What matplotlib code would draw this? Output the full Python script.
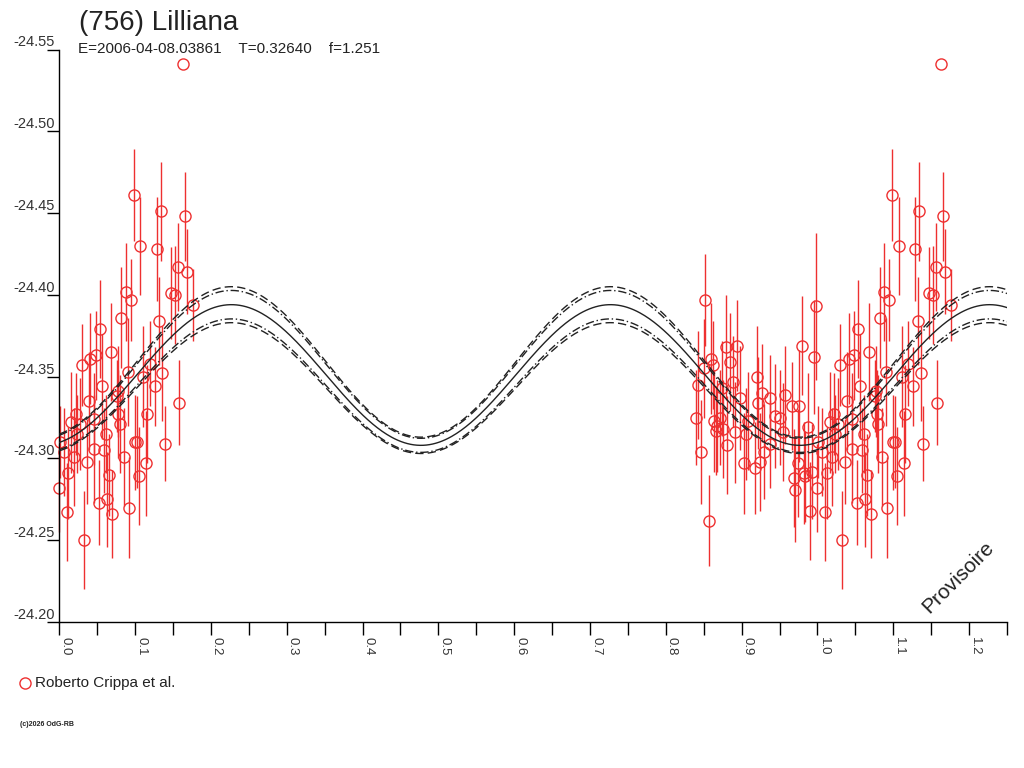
import numpy as np
import matplotlib.pyplot as plt
from matplotlib.lines import Line2D

# data (phase, reduced magnitude, error)
ph_a = [0.098, 0.134, 0.166, 0.107, 0.129, 0.156, 0.168, 0.088, 0.095, 0.147,
        0.152, 0.176, 0.082, 0.132, 0.054, 0.048, 0.068, 0.041, 0.030, 0.090,
        0.111, 0.120, 0.136, 0.056, 0.126, 0.077, 0.039, 0.076, 0.158, 0.078,
        0.116, 0.046, 0.022, 0.016, 0.027, 0.080, 0.061, 0.100, 0.001, 0.006,
        0.046, 0.059, 0.085, 0.102, 0.139, 0.019, 0.036, 0.114, 0.012, 0.066,
        0.105, 0.000, 0.063, 0.052, 0.092, 0.010, 0.070, 0.032, 0.023, 0.163]
mag_a = [-24.461, -24.451, -24.448, -24.430, -24.428, -24.417, -24.414, -24.402, -24.397, -24.401,
         -24.400, -24.394, -24.386, -24.384, -24.379, -24.363, -24.365, -24.361, -24.357, -24.353,
         -24.350, -24.358, -24.352, -24.344, -24.344, -24.341, -24.335, -24.338, -24.334, -24.327,
         -24.327, -24.324, -24.327, -24.322, -24.321, -24.321, -24.315, -24.310, -24.310, -24.304,
         -24.306, -24.305, -24.301, -24.310, -24.309, -24.301, -24.298, -24.297, -24.291, -24.290,
         -24.289, -24.282, -24.275, -24.273, -24.270, -24.267, -24.266, -24.250, -24.315, -24.541]
err_a = [0.028, 0.030, 0.027, 0.030, 0.032, 0.027, 0.026, 0.030, 0.025, 0.028,
         0.030, 0.022, 0.031, 0.027, 0.030, 0.027, 0.030, 0.028, 0.025, 0.033,
         0.031, 0.026, 0.029, 0.032, 0.024, 0.028, 0.030, 0.022, 0.026, 0.027,
         0.030, 0.028, 0.025, 0.031, 0.028, 0.030, 0.024, 0.029, 0.022, 0.027,
         0.033, 0.026, 0.030, 0.028, 0.023, 0.030, 0.026, 0.032, 0.028, 0.025,
         0.030, 0.027, 0.029, 0.026, 0.031, 0.030, 0.027, 0.030, 0.024, 0.0]

ph_b = [0.852, 0.998, 0.979, 0.995, 0.879, 0.894, 0.884, 0.859, 0.862, 0.850,
        0.920, 0.888, 0.842, 0.874, 0.927, 0.938, 0.898, 0.922, 0.957, 0.966,
        0.976, 0.840, 0.863, 0.867, 0.876, 0.866, 0.944, 0.951, 0.909, 0.891,
        0.906, 0.954, 0.987, 0.938, 0.881, 0.846, 0.929, 0.903, 0.918, 0.924,
        0.974, 0.993, 0.982, 0.969, 0.984, 0.971, 0.990, 0.857, 0.871]
mag_b = [-24.397, -24.393, -24.369, -24.362, -24.368, -24.369, -24.359, -24.361, -24.357, -24.355,
         -24.350, -24.347, -24.345, -24.343, -24.340, -24.337, -24.337, -24.334, -24.339, -24.332,
         -24.332, -24.325, -24.323, -24.320, -24.318, -24.317, -24.326, -24.325, -24.323, -24.316,
         -24.315, -24.316, -24.319, -24.309, -24.308, -24.304, -24.304, -24.297, -24.294, -24.298,
         -24.297, -24.292, -24.291, -24.288, -24.289, -24.281, -24.268, -24.262, -24.325]
err_b = [0.028, 0.045, 0.030, 0.035, 0.032, 0.028, 0.030, 0.034, 0.027, 0.030,
         0.031, 0.028, 0.033, 0.029, 0.030, 0.026, 0.032, 0.028, 0.030, 0.027,
         0.034, 0.029, 0.031, 0.028, 0.030, 0.027, 0.032, 0.029, 0.030, 0.031,
         0.028, 0.030, 0.033, 0.027, 0.030, 0.032, 0.029, 0.031, 0.028, 0.030,
         0.033, 0.029, 0.031, 0.030, 0.028, 0.032, 0.030, 0.028, 0.029]

# fit: mean, half-amplitude, phase of maximum (2 harmonics per rotation)
fit_mean = -24.351
fit_amp = 0.043
fit_phmax = 0.227
# band offsets (mean, amplitude) for the two envelope pairs
band_outer = (0.0080, 0.0030)
band_inner = (0.0065, 0.0022)

red = '#ee3030'
dark = '#222222'

plt.rcParams['font.family'] = ['Liberation Sans', 'DejaVu Sans']

fig = plt.figure(figsize=(10.24, 7.68), dpi=100)
ax = fig.add_axes([59.3 / 1024, 1 - 622 / 768, (1007 - 59.3) / 1024, (622 - 49.5) / 768])

ph = np.array(ph_a + ph_b)
mag = np.array(mag_a + mag_b)
err = np.array(err_a + err_b)
ph_all = np.concatenate([ph, ph + 1])
mag_all = np.concatenate([mag, mag])
err_all = np.concatenate([err, err])
keep = ph_all <= 1.25
ax.errorbar(ph_all[keep], mag_all[keep], yerr=err_all[keep], fmt='o', ms=8,
            mfc='none', mec=red, mew=1, ecolor=red, elinewidth=1, capsize=0,
            clip_on=False, zorder=2)

x = np.linspace(0, 1.25, 600)
c = np.cos(4 * np.pi * (x - fit_phmax))
ax.plot(x, fit_mean - fit_amp * c, color=dark, lw=1, zorder=3)
for (dm, da), ls in [(band_outer, (0, (6, 3))), (band_inner, (0, (6, 2, 1, 2)))]:
    ax.plot(x, fit_mean - dm - (fit_amp + da) * c, color=dark, lw=1, ls=ls, zorder=3)
    ax.plot(x, fit_mean + dm - (fit_amp - da) * c, color=dark, lw=1, ls=ls, zorder=3)

ax.set_xlim(0, 1.25)
ax.set_ylim(-24.20, -24.55)
for s in ['top', 'right']:
    ax.spines[s].set_visible(False)
ax.spines['left'].set_linewidth(1)
ax.spines['bottom'].set_linewidth(1)

xt = [0.0, 0.1, 0.2, 0.3, 0.4, 0.5, 0.6, 0.7, 0.8, 0.9, 1.0, 1.1, 1.2]
xt_minor = [0.05, 0.15, 0.25, 0.35, 0.45, 0.55, 0.65, 0.75, 0.85, 0.95, 1.05, 1.15, 1.25]
ax.set_xticks(xt)
ax.set_xticklabels(['%.1f' % v for v in xt], rotation=-90, fontsize=9.5,
                   ha='left', va='top', color='#333333')
ax.set_xticks(xt_minor, minor=True)
ax.tick_params(axis='x', which='both', direction='out', length=9, width=1, pad=2)

yt = [-24.55, -24.50, -24.45, -24.40, -24.35, -24.30, -24.25, -24.20]
ax.set_yticks(yt)
ax.set_yticklabels(['%.2f' % v for v in yt], fontsize=10.5, color='#333333')
ax.tick_params(axis='y', direction='out', length=9, width=1, pad=-6)
for lab in ax.get_yticklabels():
    lab.set_va('bottom')

fig.text(79 / 1024, 1 - 30 / 768, '(756) Lilliana', fontsize=20, color=dark, va='baseline')
fig.text(78 / 1024, 1 - 53 / 768, 'E=2006-04-08.03861    T=0.32640    f=1.251',
         fontsize=11, color=dark, va='baseline')

fig.add_artist(Line2D([24.7 / 1024], [1 - 683 / 768], marker='o', ms=8, mfc='none',
                      mec=red, mew=1, transform=fig.transFigure))
fig.text(35 / 1024, 1 - 683 / 768, 'Roberto Crippa et al.', fontsize=11,
         color=dark, va='center')
fig.text(20 / 1024, 1 - 725 / 768, '(c)2026 OdG-RB', fontsize=5, fontweight='bold',
         color=dark, va='center')
fig.text(958 / 1024, 1 - 577 / 768, 'Provisoire', fontsize=15, rotation=45,
         ha='center', va='center', color=dark)

fig.savefig('out.png', dpi=100)
